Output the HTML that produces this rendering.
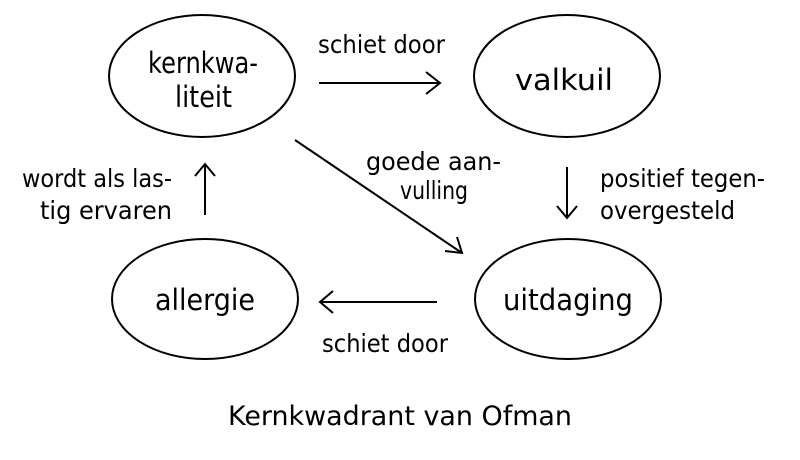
<!DOCTYPE html>
<html><head><meta charset="utf-8"><style>html,body{margin:0;padding:0;background:#fff}
text{font-family:"DejaVu Sans","Liberation Sans",sans-serif}
.n{font-size:29px}.l{font-size:25px}.t{font-size:27px}</style></head>
<body>
<svg width="800" height="455" viewBox="0 0 800 455" xmlns="http://www.w3.org/2000/svg" fill="#000">
<g fill="none" stroke="#000" stroke-width="2">
<ellipse cx="202" cy="76" rx="93" ry="61"/>
<ellipse cx="567" cy="76" rx="93" ry="61"/>
<ellipse cx="205" cy="299" rx="93" ry="60"/>
<ellipse cx="568" cy="299" rx="93" ry="60"/>
<path d="M319 83H440M426 72L440 83L426 94"/>
<path d="M295 140L462 253M445 251L462 253L457 237"/>
<path d="M567 167V218M557 206L567 218L577 206"/>
<path d="M205 215V164M195 176L205 164L215 176"/>
<path d="M437 302H320M333 291L320 302L333 313"/>
</g>
<text class="n" x="148" y="73" textLength="110" lengthAdjust="spacingAndGlyphs">kernkwa-</text>
<text class="n" x="175" y="107" textLength="57" lengthAdjust="spacingAndGlyphs">liteit</text>
<text class="n" x="515" y="90" textLength="98" lengthAdjust="spacingAndGlyphs">valkuil</text>
<text class="n" x="155" y="310" textLength="100" lengthAdjust="spacingAndGlyphs">allergie</text>
<text class="n" x="503" y="310" textLength="130" lengthAdjust="spacingAndGlyphs">uitdaging</text>
<text class="l" x="318" y="53" textLength="127" lengthAdjust="spacingAndGlyphs">schiet door</text>
<text class="l" x="366" y="170" textLength="135" lengthAdjust="spacingAndGlyphs">goede aan-</text>
<text class="l" x="400" y="199" textLength="68" lengthAdjust="spacingAndGlyphs">vulling</text>
<text class="l" x="600" y="187" textLength="165" lengthAdjust="spacingAndGlyphs">positief tegen-</text>
<text class="l" x="600" y="219" textLength="135" lengthAdjust="spacingAndGlyphs">overgesteld</text>
<text class="l" x="22" y="187" textLength="150" lengthAdjust="spacingAndGlyphs">wordt als las-</text>
<text class="l" x="40" y="219" textLength="132" lengthAdjust="spacingAndGlyphs">tig ervaren</text>
<text class="l" x="322" y="352" textLength="126" lengthAdjust="spacingAndGlyphs">schiet door</text>
<text class="t" x="228" y="425" textLength="344" lengthAdjust="spacingAndGlyphs">Kernkwadrant van Ofman</text>
</svg>
</body></html>
